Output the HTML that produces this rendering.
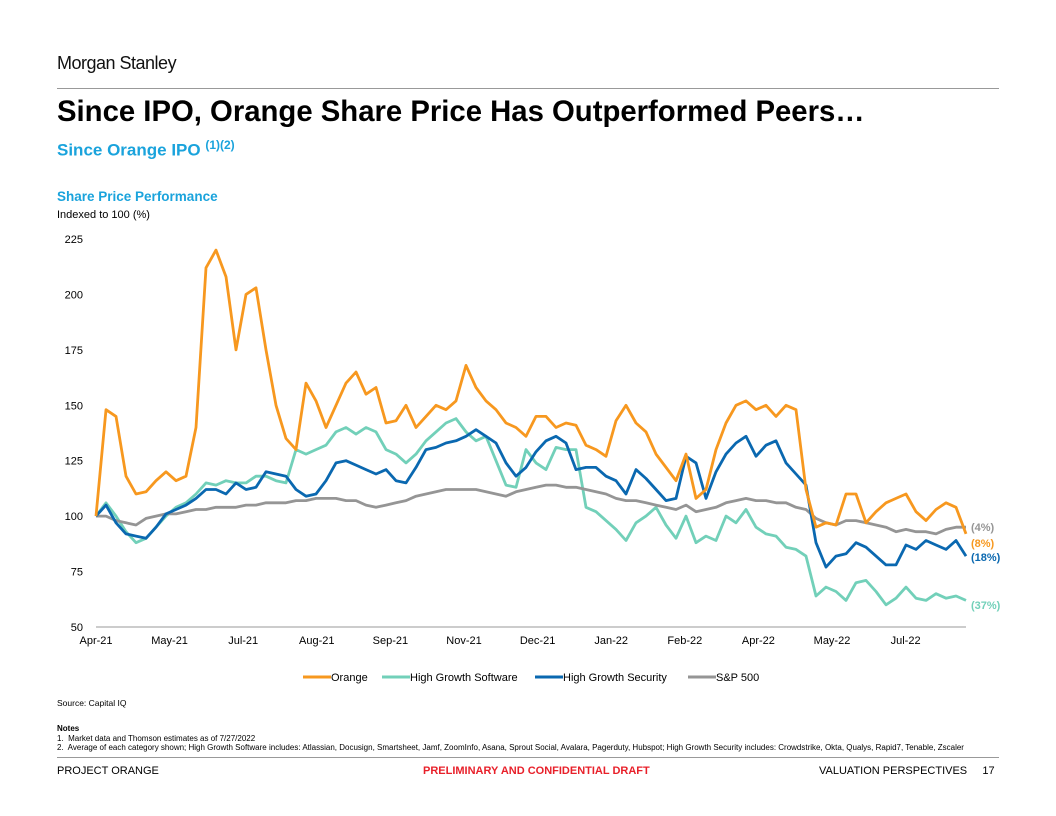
<!DOCTYPE html>
<html><head><meta charset="utf-8"><style>
body{margin:0;width:1056px;height:816px;background:#fff;font-family:"Liberation Sans",Arial,sans-serif;position:relative;overflow:hidden}
.a{position:absolute;white-space:nowrap}
</style></head><body>
<div class="a" style="left:57px;top:53px;font-size:18px;color:#111;letter-spacing:-0.5px">Morgan Stanley</div>
<div class="a" style="left:57px;top:88px;width:942px;height:1px;background:#999"></div>
<div class="a" style="left:57px;top:95px;font-size:29.3px;font-weight:bold;color:#000">Since IPO, Orange Share Price Has Outperformed Peers…</div>
<div class="a" style="left:57px;top:138px;font-size:17px;font-weight:bold;color:#1AA3DC">Since Orange IPO <sup style="font-size:12px">(1)(2)</sup></div>
<div class="a" style="left:57px;top:189px;font-size:13.5px;font-weight:bold;color:#1AA3DC">Share Price Performance</div>
<div class="a" style="left:57px;top:209px;font-size:11px;color:#000">Indexed to 100 (%)</div>
<svg class="a" style="left:0;top:0" width="1056" height="816" id="chart"></svg>
<div class="a" style="left:57px;top:698px;font-size:8.5px">Source: Capital IQ</div>
<div class="a" style="left:57px;top:724px;font-size:8px;line-height:9.5px"><b>Notes</b><br>1.&nbsp; Market data and Thomson estimates as of 7/27/2022<br>2.&nbsp; Average of each category shown; High Growth Software includes: Atlassian, Docusign, Smartsheet, Jamf, ZoomInfo, Asana, Sprout Social, Avalara, Pagerduty, Hubspot; High Growth Security includes: Crowdstrike, Okta, Qualys, Rapid7, Tenable, Zscaler</div>
<div class="a" style="left:57px;top:757px;width:942px;height:1px;background:#999"></div>
<div class="a" style="left:57px;top:765px;font-size:11px">PROJECT ORANGE</div>
<div class="a" style="left:423px;top:765px;font-size:11px;font-weight:bold;color:#E8202A">PRELIMINARY AND CONFIDENTIAL DRAFT</div>
<div class="a" style="left:819px;top:765px;font-size:11px">VALUATION PERSPECTIVES &nbsp;&nbsp;&nbsp; 17</div>
<script>
const yTicks=[50,75,100,125,150,175,200,225];
const xLabels=["Apr-21","May-21","Jul-21","Aug-21","Sep-21","Nov-21","Dec-21","Jan-22","Feb-22","Apr-22","May-22","Jul-22"];
const orange=[100,148,145,118,110,111,116,120,116,118,140,212,220,208,175,200,203,175,150,135,130,160,152,140,150,160,165,155,158,142,143,150,140,145,150,148,152,168,158,152,148,142,140,136,145,145,140,142,141,132,130,127,143,150,142,138,128,122,116,128,108,112,130,142,150,152,148,150,145,150,148,112,95,97,96,110,110,97,102,106,108,110,102,98,103,106,104,92];
const software=[100,106,100,93,88,90,95,100,104,106,110,115,114,116,115,115,118,118,116,115,130,128,130,132,138,140,137,140,138,130,128,124,128,134,138,142,144,138,134,136,125,114,113,130,124,121,131,130,130,104,102,98,94,89,97,100,104,96,90,100,88,91,89,100,97,103,95,92,91,86,85,82,64,68,66,62,70,71,66,60,63,68,63,62,65,63,64,62];
const security=[100,105,97,92,91,90,95,101,103,105,108,112,112,110,115,112,113,120,119,118,112,109,110,116,124,125,123,121,119,121,116,115,122,130,131,133,134,136,139,136,133,124,118,122,129,134,136,133,121,122,122,118,116,110,121,117,112,107,108,127,124,108,120,128,133,136,127,132,134,124,119,114,88,77,82,83,88,86,82,78,78,87,85,89,87,85,89,82];
const sp500=[100,100,98,97,96,99,100,101,101,102,103,103,104,104,104,105,105,106,106,106,107,107,108,108,108,107,107,105,104,105,106,107,109,110,111,112,112,112,112,111,110,109,111,112,113,114,114,113,113,112,111,110,108,107,107,106,105,104,103,105,102,103,104,106,107,108,107,107,106,106,104,103,99,97,96,98,98,97,96,95,93,94,93,93,92,94,95,95];
const endLabels=["(4%)","(8%)","(18%)","(37%)"];
const NS="http://www.w3.org/2000/svg",svg=document.getElementById('chart');
const N=orange.length;
const X=i=>96+i*(966-96)/(N-1);
const Y=v=>627-(v-50)*(627-239)/175;
function mk(t,a,txt){const e=document.createElementNS(NS,t);for(const k in a)e.setAttribute(k,a[k]);if(txt!=null)e.textContent=txt;svg.appendChild(e);return e;}
yTicks.forEach(v=>{const t=mk('text',{x:83,y:Y(v)+4,'text-anchor':'end','font-size':11,fill:'#000'},v);

});
const ax=mk('line',{x1:96,x2:966,y1:627,y2:627,stroke:'#999','stroke-width':1});


xLabels.forEach((l,k)=>{const t=mk('text',{x:X(k*7.36),y:644,'text-anchor':'middle','font-size':11,fill:'#000'},l);

});
const series=[[software,'#72D0B9','high-growth-software-line'],[sp500,'#959595','sp500-line'],[security,'#0A68B0','high-growth-security-line'],[orange,'#F7981F','orange-line']];
series.forEach(([d,c,n])=>{const p=mk('polyline',{points:d.map((v,i)=>X(i).toFixed(1)+','+Y(v).toFixed(1)).join(' '),fill:'none',stroke:c,'stroke-width':2.8,'stroke-linejoin':'round'});

});
const eCols=['#959595','#F7981F','#0A68B0','#72D0B9'],eY=[531,547,561,609];
endLabels.forEach((l,i)=>{const t=mk('text',{x:971,y:eY[i],'font-size':11,'font-weight':'bold',fill:eCols[i]},l);

});
const leg=[['Orange','#F7981F',303],['High Growth Software','#72D0B9',382],['High Growth Security','#0A68B0',535],['S&P 500','#959595',688]];
leg.forEach(([l,c,x])=>{const g=mk('line',{x1:x,x2:x+28,y1:677,y2:677,stroke:c,'stroke-width':3});


const t=mk('text',{x:x+28,y:681,'font-size':11,fill:'#000'},l);

});
</script>
</body></html>
